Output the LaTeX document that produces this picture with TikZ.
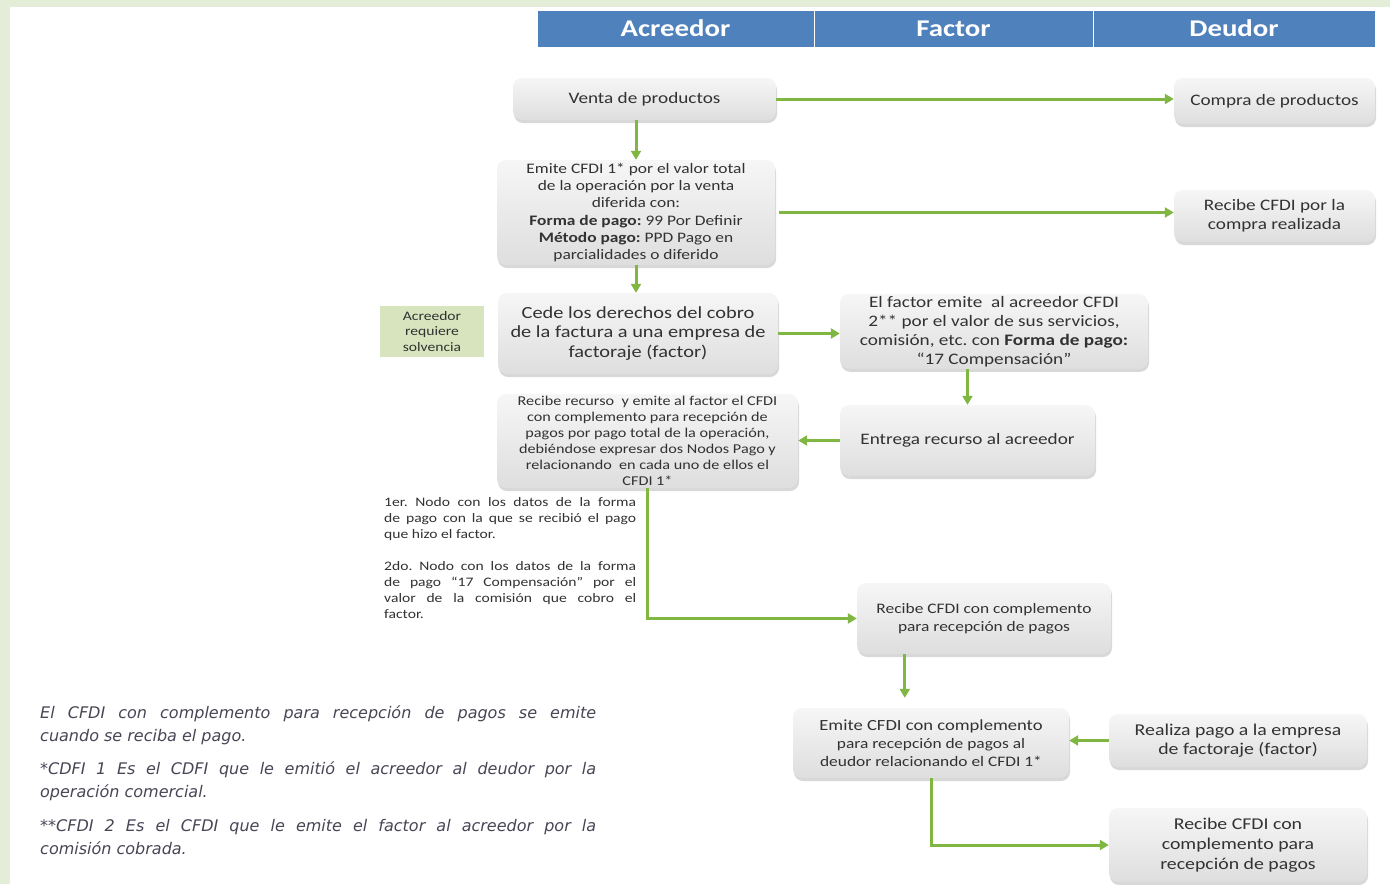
\documentclass[tikz,border=0pt]{standalone}
\usepackage{fontspec}
\setmainfont{Carlito}[FakeStretch=1.2]
\newfontfamily\notefont{DejaVu Sans}
\usetikzlibrary{shadows,arrows.meta,calc}
\definecolor{hdr}{RGB}{79,129,189}
\definecolor{arr}{RGB}{128,182,66}
\definecolor{solv}{RGB}{215,228,189}
\definecolor{framebg}{RGB}{228,237,216}
\definecolor{txt}{RGB}{50,50,50}
\definecolor{notec}{RGB}{70,70,85}
\definecolor{boxtop}{RGB}{246,246,246}
\definecolor{boxbot}{RGB}{222,222,222}
\newcommand\fsz[2]{\fontsize{#1}{#2}\selectfont}
\frenchspacing
\tikzset{
  box/.style={rounded corners=9pt, top color=boxtop, bottom color=boxbot,
    drop shadow={opacity=0.3, shadow xshift=1pt, shadow yshift=-3pt},
    align=center, inner sep=2pt, text=txt},
  hcell/.style={fill=hdr, draw=white, line width=0.8pt, text=white,
    font=\bfseries\fsz{24}{28}, minimum height=37pt, inner sep=0pt},
  con/.style={draw=arr, line width=3pt, -{Triangle[length=9pt,width=10pt]}},
}
\begin{document}
\begin{tikzpicture}[x=1pt,y=-1pt]
\useasboundingbox (0,0) rectangle (1390,884);
\fill[framebg] (0,0) rectangle (1390,884);
\fill[white] (10,7) rectangle (1390,884);

% header
\node[hcell, minimum width=277pt] (hA) at (675.5,28.5) {\raisebox{-1.5pt}{Acreedor}};
\node[hcell, minimum width=279pt] (hF) at (953.5,28.5) {\raisebox{-1.5pt}{Factor}};
\node[hcell, minimum width=282pt] (hD) at (1234,28.5) {\raisebox{-1.5pt}{Deudor}};

% boxes
\node[box, minimum width=263pt, minimum height=42pt, font=\fsz{16}{19}] (venta) at (644.5,99) {Venta de productos};
\node[box, minimum width=201pt, minimum height=46pt, font=\fsz{16}{19}] (compra) at (1274.5,101) {Compra de productos};
\node[box, minimum width=278pt, minimum height=105pt, font=\fsz{14.5}{17.3}] (emite1) at (636,212.5)
  {Emite CFDI 1* por el valor total\\de la operación por la venta\\diferida con:\\\textbf{Forma de pago:} 99 Por Definir\\\textbf{Método pago:} PPD Pago en\\parcialidades o diferido};
\node[box, minimum width=201pt, minimum height=52pt, font=\fsz{16}{19}] (reccompra) at (1274.5,216) {Recibe CFDI por la\\compra realizada};
\node[fill=solv, minimum width=104pt, minimum height=51pt, align=center, text=txt, font=\fsz{13}{15.5}, inner sep=0pt] (solv) at (432,331.5) {Acreedor\\requiere\\solvencia};
\node[box, minimum width=280pt, minimum height=81pt, font=\fsz{17}{19.5}] (cede) at (638,333.5)
  {Cede los derechos del cobro\\de la factura a una empresa de\\factoraje (factor)};
\node[box, minimum width=308pt, minimum height=71pt, font=\fsz{16}{19}] (factor) at (994,331.5)
  {El factor emite \ al acreedor CFDI\\2** por el valor de sus servicios,\\comisión, etc. con \textbf{Forma de pago:}\\“17 Compensación”};
\node[box, minimum width=255pt, minimum height=71pt, font=\fsz{16}{19}] (entrega) at (967.5,440.5) {Entrega recurso al acreedor};
\node[box, minimum width=301pt, minimum height=94pt, font=\fsz{13.5}{16}] (recurso) at (647.5,441)
  {Recibe recurso \ y emite al factor el CFDI\\con complemento para recepción de\\pagos por pago total de la operación,\\debiéndose expresar dos Nodos Pago y\\relacionando \ en cada uno de ellos el\\CFDI 1*};
\node[anchor=north west, text width=252pt, inner sep=0pt, align=justify, text=txt, font=\fsz{13}{16}] (nodos) at (384,497)
  {1er. Nodo con los datos de la forma\linebreak de pago con la que se recibió el pago\linebreak que hizo el factor.\par\vspace{16pt}
   2do. Nodo con los datos de la forma\linebreak de pago “17 Compensación” por el\linebreak valor de la comisión que cobro el\linebreak factor.};
\node[box, minimum width=254pt, minimum height=71pt, font=\fsz{14.5}{18}] (recfactor) at (984,618.5)
  {Recibe CFDI con complemento\\para recepción de pagos};
\node[box, minimum width=276pt, minimum height=70pt, font=\fsz{14.5}{18}] (emitecomp) at (931,743)
  {{\fsz{15.5}{19}Emite CFDI con complemento}\\para recepción de pagos al\\deudor relacionando el CFDI 1*};
\node[box, minimum width=258pt, minimum height=53pt, font=\fsz{16.5}{19}] (realiza) at (1238,740.5)
  {Realiza pago a la empresa\\de factoraje (factor)};
\node[box, minimum width=258pt, minimum height=74pt, font=\fsz{16.5}{20}] (recdeudor) at (1238,845)
  {Recibe CFDI con\\complemento para\\recepción de pagos};

% footnotes
\node[anchor=north west, text width=556pt, inner sep=0pt, align=justify, text=notec,
  font=\notefont\itshape\fsz{16}{23}] (notas) at (40,705)
  {El CFDI con complemento para recepción de pagos se emite\linebreak cuando se reciba el pago.\par\vspace{10pt}
   *CDFI 1 Es el CDFI que le emitió el acreedor al deudor por la\linebreak operación comercial.\par\vspace{11pt}
   **CFDI 2 Es el CFDI que le emite el factor al acreedor por la\linebreak comisión cobrada.};

% connectors
\draw[con] (venta.east) -- (venta.east -| compra.west);
\draw[con] (emite1.north |- venta.south) -- (emite1.north);
\draw[con] ([xshift=4pt]emite1.east) -- (emite1.east -| reccompra.west);
\draw[con] (emite1.south) -- (emite1.south |- cede.north);
\draw[con] (cede.east) -- (cede.east -| factor.west);
\draw[con] (factor.south -| entrega.north) -- (entrega.north);
\draw[con] (entrega.west) -- (entrega.west -| recurso.east);
\draw[con] (recurso.south) |- (recfactor.west);
\draw[con, shorten >=10pt] ($(recfactor.south west)+(48,0)$) -- ($(emitecomp.north west)+(112,0)$);
\draw[con] (realiza.west) -- (realiza.west -| emitecomp.east);
\draw[con] (emitecomp.south) |- (recdeudor.west);
\end{tikzpicture}
\end{document}
